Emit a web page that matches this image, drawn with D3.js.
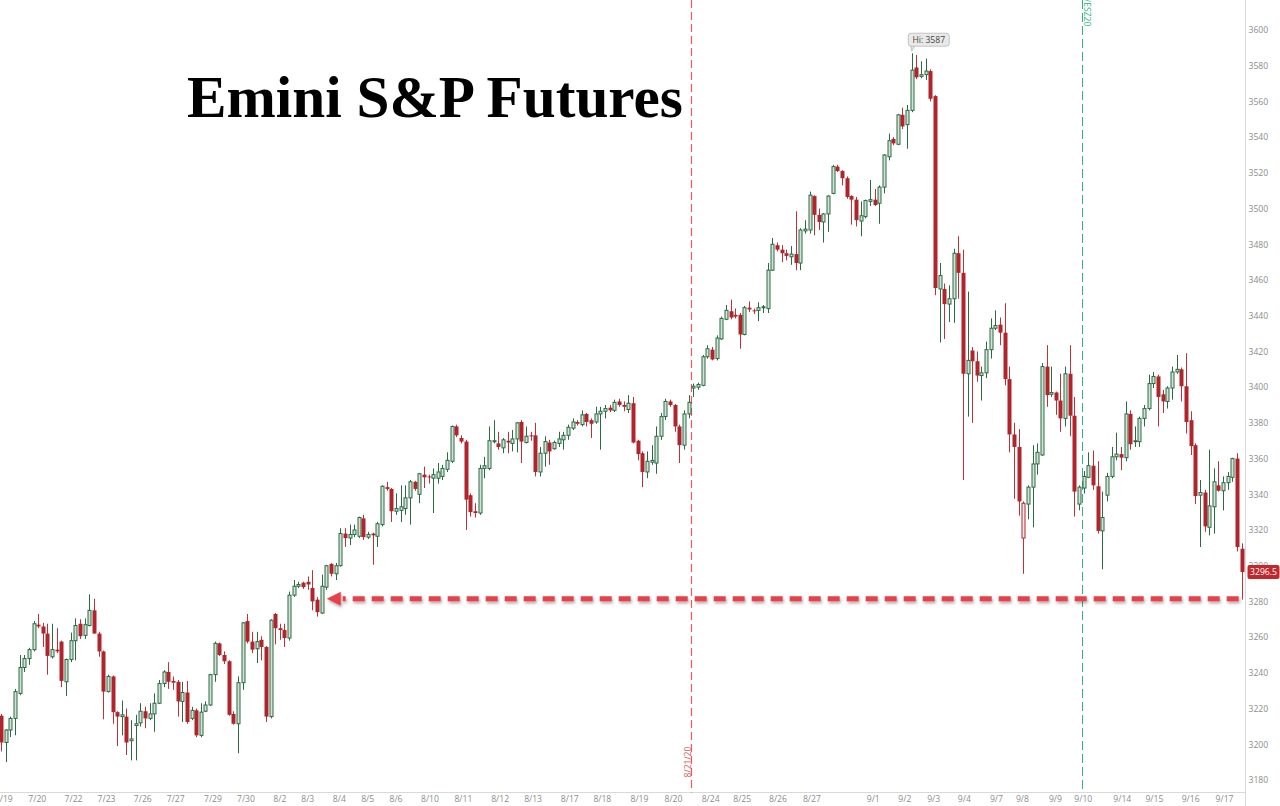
<!DOCTYPE html>
<html>
<head>
<meta charset="utf-8">
<script src="https://cdn.jsdelivr.net/npm/d3@7"></script>
<style>
html,body{margin:0;padding:0;background:#ffffff;}
svg{display:block;}
</style>
</head>
<body>
<svg id="chart" width="1280" height="806"></svg>
<script>
// ---- DATA: [open, high, low, close] per bar ----
const candles = [
[3216,3217,3196,3201],[3201,3208.5,3190,3208],[3208,3215.5,3204,3214.5],[3214.5,3231,3205,3229.5],
[3228.5,3250,3227.5,3243],[3243,3250,3240.5,3248],[3248,3254,3244.5,3253],[3253,3269,3252,3267.5],
[3267,3273,3265,3266],[3266,3268,3254.5,3262],[3262,3267.5,3239,3249.5],[3249,3267.5,3248,3253],
[3253,3265,3251,3252],[3257.5,3258,3232,3235.5],[3235,3248,3227,3247.5],[3247.5,3262.5,3246,3258],
[3258,3270.5,3247,3266.5],[3267.5,3270,3259,3260.5],[3261,3270.5,3259,3267],[3266.5,3284,3266,3275],
[3275,3281.5,3262,3262],[3262,3263,3249,3252],[3252,3252.5,3214,3229.5],[3229.5,3239,3229,3238],
[3238,3238.5,3211.5,3218],[3218,3218.5,3199,3215.5],[3215.5,3224.5,3205,3216.5],[3215.5,3220,3194,3201],
[3202,3213.5,3191,3203],[3210.5,3216.5,3191,3211.5],[3212,3223,3210,3218.5],[3218.5,3221,3209,3214.5],
[3214.5,3223,3213.5,3217],[3217,3228.5,3207,3223],[3223,3236,3222.5,3234],[3234,3241.5,3232,3240.5],
[3240.5,3246,3231,3235],[3235.5,3238,3230.5,3234.5],[3235,3236,3215.5,3224],[3224,3235,3212.5,3229],
[3229,3235.5,3211.5,3212.5],[3214.5,3221,3213.5,3219],[3219,3220,3204,3205],[3205,3223,3204,3218],
[3218.5,3224,3218,3222],[3222,3239.5,3221.5,3239],[3239,3257.5,3235,3256.5],[3256.5,3257,3249.5,3250],
[3250,3252,3245,3246.5],[3246.5,3247,3216,3216.5],[3217,3218.5,3211,3211.5],[3211.5,3238,3195,3234.5],
[3234.5,3268.5,3230.5,3268],[3269,3273,3256.5,3257.5],[3257.5,3263,3251,3253],[3253.5,3263,3245.5,3257.5],
[3258.5,3260.5,3247,3254.5],[3254.5,3255,3212.5,3215.5],[3215.5,3270,3214.5,3269.5],[3273,3273.5,3256,3265],
[3265,3267.5,3258.5,3264],[3264,3267.5,3254.5,3259.5],[3259.5,3285.5,3258,3283.5],[3283.5,3292,3282.5,3288.5],
[3288.5,3291,3287.5,3289.5],[3290.5,3291,3287,3288],[3291,3294,3286.5,3289.5],[3287.5,3297.5,3275,3280],
[3281,3282.5,3271.5,3274],[3273.5,3295,3273,3288.5],[3288,3300.5,3286.5,3300],[3301,3301.5,3294,3295.5],
[3295.5,3301.5,3292,3300],[3300,3321,3299.5,3318],[3318,3321,3310.5,3315.5],[3315.5,3323,3311.5,3317.5],
[3317.5,3323,3316,3320],[3316.5,3327.5,3315.5,3327],[3326.5,3328.5,3314.5,3316],[3316,3319,3315,3317.5],
[3318,3318.5,3300.5,3317],[3316.5,3324.5,3310.5,3323.5],[3323,3345,3322,3344.5],[3344,3347,3342,3343],
[3343,3343.5,3324.5,3330.5],[3330.5,3340.5,3328.5,3332],[3331,3345,3324.5,3333],[3332,3345,3328.5,3338],
[3338,3348,3323,3347],[3347,3347.5,3342,3343],[3340,3352,3335,3351.5],[3351,3355.5,3343.5,3349.5],
[3350,3351,3346,3349.5],[3349,3354.5,3329.5,3351],[3349,3357.5,3346,3352.5],[3350,3356.5,3348,3354.5],
[3354,3363.5,3352.5,3359],[3358.5,3378.5,3357.5,3378],[3378,3379,3372,3373],[3371.5,3373,3368.5,3369.5],
[3369.5,3370.5,3320,3337],[3339.5,3340.5,3327.5,3330],[3330.5,3335,3327,3329.5],[3329.5,3356.5,3328.5,3354.5],
[3354.5,3361,3349,3356],[3354.5,3378,3353.5,3370],[3369.5,3381.5,3368.5,3370],[3368.5,3375,3365,3366.5],
[3366,3371.5,3363,3370.5],[3370,3375,3363,3369],[3368.5,3376,3364,3371],[3371,3380.5,3363.5,3380],
[3380.5,3381.5,3357.5,3369.5],[3369,3378,3368.5,3372.5],[3373,3375,3370,3372.5],[3373,3380,3350,3352.5],
[3352.5,3366.5,3350,3363],[3363,3372.5,3355.5,3369.5],[3369,3370.5,3356.5,3364],[3365.5,3370,3365,3369],
[3368.5,3375,3366.5,3371],[3370.5,3375,3365,3373],[3373,3379,3370.5,3377.5],[3377,3382.5,3376,3380.5],
[3380.5,3381.5,3378.5,3379.5],[3379,3387,3378,3384.5],[3385,3385.5,3378,3380.5],[3381.5,3382.5,3371.5,3379.5],
[3380.5,3389,3379.5,3385],[3385,3389,3365,3386.5],[3386.5,3390,3382.5,3388],[3388.5,3390,3386,3387],
[3387,3393,3386,3391.5],[3392,3393.5,3389,3390],[3390,3392,3386.5,3389],[3387.5,3395.5,3385.5,3391],
[3391,3394.5,3368.5,3369],[3370,3370.5,3359,3362.5],[3363,3364,3344,3352.5],[3352.5,3364,3349,3358.5],
[3358,3367.5,3356.5,3359],[3357.5,3378,3351.5,3372.5],[3372.5,3385.5,3370.5,3383.5],[3383.5,3393.5,3381.5,3392],
[3392,3393,3389,3390],[3390,3390.5,3375,3378],[3378,3379,3357.5,3367.5],[3367.5,3387,3365,3385],
[3385,3395.5,3382.5,3391.5],[3399.5,3402,3394.5,3400.5],[3400,3402.5,3398.5,3401.5],[3401,3418,3400.5,3417],
[3417,3423.5,3416,3421.5],[3421,3422.5,3415,3415.5],[3416,3429,3415,3427.5],[3427,3439.5,3426.5,3438.5],
[3438,3446,3437.5,3443],[3442.5,3449,3438,3439],[3440.5,3444,3438.5,3439.5],[3440.5,3441.5,3421.5,3429.5],
[3429.5,3445.5,3429,3444.5],[3444.5,3448,3442,3443.5],[3443,3444,3441,3442.5],[3443,3447.5,3437,3444.5],
[3444.5,3446,3441.5,3445],[3444,3469.5,3441.5,3465.5],[3465.5,3483.5,3465,3480],[3479.5,3481,3476,3477],
[3477,3479.5,3470,3475],[3475,3477,3471,3473.5],[3473,3479,3468.5,3474.5],[3474.5,3498.5,3465.5,3469.5],
[3469.5,3489,3465.5,3488],[3487.5,3493.5,3486,3488.5],[3488,3509.5,3486,3507.5],[3507,3507.5,3485,3496.5],
[3496.5,3500,3488,3492.5],[3492.5,3497.5,3481,3497],[3497,3507.5,3487,3507],[3508.5,3524.5,3508,3523.5],
[3523.5,3524.5,3520.5,3521],[3521,3521.5,3513,3517],[3517,3518,3505.5,3506.5],[3507,3507.5,3491,3505],
[3505,3506.5,3490,3493.5],[3493,3504,3484.5,3496],[3495.5,3505,3494.5,3504.5],[3504,3516,3501.5,3505],
[3505,3511,3501.5,3502],[3503,3513,3491.5,3512],[3512,3530.5,3508.5,3530],[3529,3542,3527,3538],
[3539,3540,3535.5,3536.5],[3536,3553,3535.5,3552.5],[3552.5,3556.5,3544.5,3546],[3547,3558,3533.5,3555],
[3555,3587,3554,3577.5],[3579,3586,3572.5,3573.5],[3574,3582.5,3573,3575],[3575,3584,3572,3577],
[3577,3578,3560,3561.5],[3563,3563.5,3451.5,3455.5],[3455,3469.5,3425,3462.5],[3455,3458,3427,3446.5],
[3446.5,3457,3436.5,3449.5],[3449.5,3477.5,3436,3475],[3475,3484.5,3449.5,3464],[3464,3477,3348,3407.5],
[3407.5,3453.5,3383.5,3415],[3420.5,3422.5,3380,3414.5],[3414.5,3420,3403,3406.5],[3406.5,3411.5,3392.5,3408],
[3408,3425.5,3405,3421],[3421,3438.5,3416,3433],[3433,3443,3432,3434.5],[3435,3439,3423.5,3430.5],
[3430.5,3447,3401,3404.5],[3404.5,3411.5,3363.5,3373.5],[3373.5,3380,3337.5,3366.5],[3366.5,3376.5,3328,3336],
[3315.5,3336,3295.5,3335],[3334.5,3345,3326,3344],[3344,3367.5,3321.5,3357],[3357,3368.5,3351,3363.5],
[3362,3413.5,3361.5,3411.5],[3411.5,3423.5,3389,3395.5],[3396,3411.5,3394.5,3397],[3397,3397.5,3384.5,3392.5],
[3392.5,3407.5,3375,3382.5],[3382.5,3411.5,3378,3407.5],[3407.5,3423.5,3372.5,3384],[3384,3394.5,3327.5,3341.5],
[3334.5,3345,3331,3344],[3343.5,3353,3340.5,3350],[3349.5,3363.5,3349,3356],[3356,3364.5,3342.5,3345],
[3344.5,3358.5,3318,3319.5],[3319.5,3341.5,3298,3327],[3339.5,3352,3336,3350],[3350,3366.5,3349,3361],
[3361,3374.5,3359,3362.5],[3362.5,3366.5,3353.5,3360.5],[3360.5,3392,3358.5,3385],[3385,3387,3365,3368],
[3369.5,3378,3366.5,3370],[3369.5,3383.5,3366.5,3382.5],[3382.5,3390,3378,3388],[3388,3407,3387,3402],
[3402,3408.5,3399.5,3406],[3406,3407,3378,3394.5],[3396,3398.5,3385.5,3392],[3392,3400.5,3388,3399.5],
[3399.5,3411.5,3393,3408.5],[3408.5,3418,3407.5,3410],[3410,3411,3392,3400.5],[3400.5,3419,3374,3380.5],
[3381.5,3386.5,3362,3367],[3367.5,3368.5,3334.5,3339],[3339.5,3348,3310.5,3341],[3341,3342.5,3319,3322],
[3321.5,3365,3317,3333.5],[3333,3354.5,3318,3347],[3345,3358.5,3341.5,3342],[3342,3350,3331,3346.5],
[3346.5,3352.5,3342.5,3350],[3349.5,3360.5,3347,3360],[3360,3363,3308,3310.5],[3309.5,3312.5,3281,3296.5]
];

// x-axis date labels and the bar index they sit at
const xTickLabels = ["7/19","7/20","7/22","7/23","7/26","7/27","7/29","7/30","8/2","8/3","8/4","8/5","8/6",
  "8/10","8/11","8/12","8/13","8/17","8/18","8/19","8/20","8/24","8/25","8/26","8/27","9/1","9/2","9/3",
  "9/4","9/7","9/8","9/9","9/10","9/14","9/15","9/16","9/17"];
const xTickIndex = [0.5,7.7,15.5,22.6,30.4,37.5,45.5,52.6,59.9,65.9,72.7,78.8,84.9,
  92.2,99.4,107.3,114.4,122.3,129.3,137.3,144.6,152.6,159.4,167.1,174.4,187.6,194.4,200.6,
  207.2,214.1,219.7,226.8,232.8,241.2,248.1,255.9,263.2];

// y-axis tick labels
const yTicks = [3180,3200,3220,3240,3260,3280,3300,3320,3340,3360,3380,3400,3420,3440,3460,3480,3500,3520,3540,3560,3580,3600];

// vertical event markers (label, bar index)
const markerLabels = ["8/21/20", "/ESZ20"];
const markerIndex = [148.5, 232.6];

// dashed arrow annotation: price level, from bar, to bar
const arrowLevel = [3281.5];
const arrowBars = [267, 70.1];

const titleText = "Emini S&P Futures";

// ---- DRAWING ----
const svg = d3.select("#chart");
const W = 1280, H = 806;
const axisX = 1245.5, axisY = 792.5;

const GREEN = "#2c6a44", GREEN_FILL = "#d0e4d5";
const RED = "#b0252b", RED_WICK = "#bb3238";

const x = d3.scaleLinear().domain([0, candles.length - 1]).range([1, 1241.7]);
const y = d3.scaleLinear().domain([3180, 3600]).range([780, 30]);

svg.append("rect").attr("width", W).attr("height", H).attr("fill", "#ffffff");

const defs = svg.append("defs");
const f = defs.append("filter").attr("id", "shadow").attr("x", "-5%").attr("y", "-100%").attr("width", "110%").attr("height", "300%");
f.append("feDropShadow").attr("dx", 1).attr("dy", 2).attr("stdDeviation", 1.4)
  .attr("flood-color", "#000").attr("flood-opacity", 0.35);

// axes
svg.append("line").attr("x1", axisX).attr("x2", axisX).attr("y1", 0).attr("y2", H)
  .attr("stroke", "#d9d9d9").attr("stroke-width", 1);
svg.append("line").attr("x1", 0).attr("x2", axisX).attr("y1", axisY).attr("y2", axisY)
  .attr("stroke", "#d9d9d9").attr("stroke-width", 1);

const yAxis = d3.axisRight(y).tickValues(yTicks).tickSize(0).tickPadding(3).tickFormat(d3.format("d"));
const gy = svg.append("g").attr("transform", `translate(${axisX},0)`).call(yAxis);
gy.select(".domain").remove();
gy.selectAll("text").attr("font-family", "'Open Sans', sans-serif").attr("font-size", 8.6).attr("fill", "#8c8c8c");

const xAxis = d3.axisBottom(x).tickValues(xTickIndex).tickSize(0).tickPadding(3)
  .tickFormat((d, i) => xTickLabels[i]);
const gx = svg.append("g").attr("transform", `translate(0,${axisY})`).call(xAxis);
gx.select(".domain").remove();
gx.selectAll("text").attr("font-family", "'Open Sans', sans-serif").attr("font-size", 8.6).attr("fill", "#8c8c8c");

// vertical markers
const markerColors = ["#f05a5a", "#2fb380"];
const markerDash = ["8,4", "9,4"];
markerIndex.forEach((mi, k) => {
  const mx = Math.round(x(mi)) + 0.5;
  svg.append("line").attr("x1", mx).attr("x2", mx).attr("y1", 0).attr("y2", axisY)
    .attr("stroke", markerColors[k]).attr("stroke-width", k === 0 ? 1.2 : 1)
    .attr("stroke-dasharray", markerDash[k]);
  if (k === 0) {
    svg.append("text").attr("transform", `translate(${mx - 0.5},762) rotate(-90)`)
      .attr("text-anchor", "middle").attr("font-family", "'Open Sans', sans-serif")
      .attr("font-size", 8.6).attr("fill", "#d65a5a").text(markerLabels[k]);
  } else {
    svg.append("text").attr("transform", `translate(${mx + 1.5},-1) rotate(90)`)
      .attr("text-anchor", "start").attr("font-family", "'Open Sans', sans-serif")
      .attr("font-size", 8.6).attr("fill", markerColors[k]).text(markerLabels[k]);
  }
});

// candles
const bars = candles.map((c, i) => {
  const [o, h, l, cl] = c;
  const up = cl >= o;
  const hollowRed = up && i > 0 && cl < candles[i - 1][3];
  return {i, o, h: Math.max(h, o, cl), l: Math.min(l, o, cl), c: cl, up, hollowRed};
});

const g = svg.append("g");
g.selectAll("line.wick").data(bars).join("line").attr("class", "wick")
  .attr("x1", d => Math.round(x(d.i)) + 0.5).attr("x2", d => Math.round(x(d.i)) + 0.5)
  .attr("y1", d => y(d.h)).attr("y2", d => y(d.l))
  .attr("stroke", d => (d.up && !d.hollowRed) ? GREEN : RED_WICK).attr("stroke-width", 1);

g.selectAll("rect.body").data(bars).join("rect").attr("class", "body")
  .attr("x", d => d.up ? Math.round(x(d.i)) - 1 : Math.round(x(d.i)) - 1.5)
  .attr("width", d => d.up ? 3 : 4)
  .attr("y", d => y(Math.max(d.o, d.c)))
  .attr("height", d => Math.max(1, y(Math.min(d.o, d.c)) - y(Math.max(d.o, d.c))))
  .attr("fill", d => d.up ? (d.hollowRed ? "#fbeeee" : GREEN_FILL) : RED)
  .attr("stroke", d => d.up ? (d.hollowRed ? RED : GREEN) : "none")
  .attr("stroke-width", 1);

// dashed arrow
const ay = y(arrowLevel[0]);
const ax1 = x(arrowBars[0]) - 3, tipX = x(arrowBars[1]);
const arrowG = svg.append("g").attr("filter", "url(#shadow)");
arrowG.append("line").attr("x1", ax1).attr("x2", tipX + 16).attr("y1", ay).attr("y2", ay)
  .attr("stroke", "#e8414a").attr("stroke-width", 5).attr("stroke-dasharray", "12,7");
arrowG.append("path")
  .attr("d", `M${tipX},${ay} L${tipX + 14},${ay - 7} L${tipX + 14},${ay + 7} Z`)
  .attr("fill", "#e8414a");

// Hi label
const hiIdx = d3.maxIndex(bars, d => d.h);
const hiVal = bars[hiIdx].h;
const hx = x(hiIdx), hy = y(hiVal);
const hiG = svg.append("g");
hiG.append("path").attr("d", `M${hx - 1},${hy - 7} L${hx + 3},${hy - 7} L${hx},${hy - 2} Z`)
  .attr("fill", "#e6e6e6").attr("stroke", "#b8b8b8").attr("stroke-width", 0.8);
hiG.append("rect").attr("x", hx - 3.5).attr("y", hy - 20).attr("width", 41).attr("height", 13)
  .attr("rx", 3).attr("fill", "#e9e9e9").attr("stroke", "#b8b8b8").attr("stroke-width", 0.8);
hiG.append("text").attr("x", hx + 17).attr("y", hy - 10.5).attr("text-anchor", "middle")
  .attr("font-family", "'Open Sans', sans-serif").attr("font-size", 8.6).attr("fill", "#444")
  .text("Hi: " + d3.format("d")(hiVal));

// last price badge
const last = bars[bars.length - 1].c;
const ly = y(last);
svg.append("rect").attr("x", axisX + 2).attr("y", ly - 7).attr("width", 32).attr("height", 14)
  .attr("rx", 2).attr("fill", "#c0282d");
svg.append("text").attr("x", axisX + 18).attr("y", ly + 3).attr("text-anchor", "middle")
  .attr("font-family", "'Open Sans', sans-serif").attr("font-size", 8.6).attr("fill", "#ffffff")
  .text(d3.format(".1f")(last));

// title
const title = svg.append("text").attr("x", 187).attr("y", 116.7)
  .attr("font-family", "'Liberation Serif', 'Times New Roman', serif").attr("font-weight", "bold")
  .attr("font-size", 56).attr("fill", "#000").text(titleText);
const tw = title.node().getComputedTextLength();
title.attr("font-size", 56 * 496 / tw);
</script>
</body>
</html>
